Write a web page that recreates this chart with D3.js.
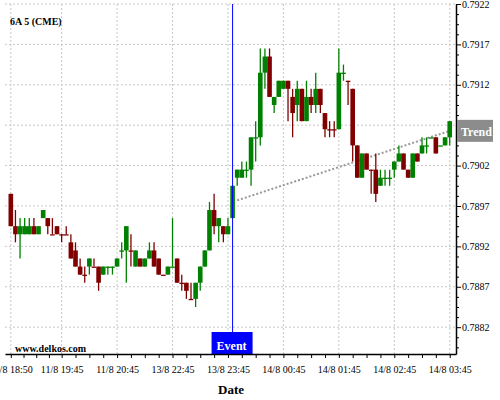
<!DOCTYPE html>
<html>
<head>
<meta charset="utf-8">
<script src="https://cdn.jsdelivr.net/npm/d3@7"></script>
<style>
  body { margin: 0; background: #fff; }
  text { font-family: "Liberation Serif", "Times New Roman", serif; }
</style>
</head>
<body>
<script>
'use strict'

// 5 minute bars, 6A (CME), 11/8 18:50 .. 14/8 03:45
const opens = [
  0.78985, 0.78945, 0.78935, 0.78935, 0.78935, 0.78945, 0.78935, 0.78955, 0.78955, 0.78935,
  0.78945, 0.78935, 0.78935, 0.78925, 0.78915, 0.78895, 0.78885, 0.78895, 0.78895, 0.78895,
  0.78885, 0.78895, 0.78895, 0.78895, 0.78915, 0.78915, 0.78915, 0.78895, 0.78905, 0.78895,
  0.78905, 0.78915, 0.78905, 0.78885, 0.78885, 0.78895, 0.78905, 0.78875, 0.78875, 0.78855,
  0.78855, 0.78875, 0.78895, 0.78915, 0.78965, 0.78945, 0.78945, 0.78935, 0.78955, 0.79005,
  0.79005, 0.79015, 0.79015, 0.79055, 0.79055, 0.79135, 0.79155, 0.79095, 0.79105, 0.79115,
  0.79125, 0.79105, 0.79095, 0.79115, 0.79075, 0.79105, 0.79095, 0.79115, 0.79085, 0.79065,
  0.79065, 0.79065, 0.79135, 0.79125, 0.79115, 0.79045, 0.79005, 0.79035, 0.79015, 0.79015,
  0.78995, 0.79005, 0.79005, 0.79015, 0.79025, 0.79035, 0.79015, 0.79005, 0.79035, 0.79035,
  0.79045, 0.79055, 0.79055, 0.79045, 0.79045, 0.79055
]
const highs = [
  0.78985, 0.78965, 0.78955, 0.78955, 0.78955, 0.78955, 0.78945, 0.78965, 0.78955, 0.78955,
  0.78945, 0.78935, 0.78945, 0.78935, 0.78925, 0.78905, 0.78895, 0.78905, 0.78905, 0.78895,
  0.78895, 0.78895, 0.78895, 0.78905, 0.78925, 0.78945, 0.78935, 0.78915, 0.78905, 0.78905,
  0.78925, 0.78925, 0.78905, 0.78885, 0.78895, 0.78955, 0.78905, 0.78885, 0.78875, 0.78875,
  0.78875, 0.78895, 0.78915, 0.78975, 0.78985, 0.78955, 0.78945, 0.78955, 0.78995, 0.79015,
  0.79025, 0.79025, 0.79055, 0.79075, 0.79165, 0.79165, 0.79165, 0.79105, 0.79125, 0.79125,
  0.79125, 0.79115, 0.79125, 0.79115, 0.79125, 0.79115, 0.79135, 0.79115, 0.79085, 0.79075,
  0.79075, 0.79165, 0.79145, 0.79125, 0.79115, 0.79045, 0.79035, 0.79035, 0.79015, 0.79035,
  0.79015, 0.79015, 0.79015, 0.79025, 0.79045, 0.79035, 0.79015, 0.79035, 0.79035, 0.79055,
  0.79055, 0.79055, 0.79055, 0.79045, 0.79055, 0.79075
]
const lows = [
  0.78945, 0.78925, 0.78905, 0.78935, 0.78935, 0.78935, 0.78935, 0.78955, 0.78935, 0.78935,
  0.78935, 0.78925, 0.78935, 0.78905, 0.78895, 0.78885, 0.78875, 0.78885, 0.78895, 0.78865,
  0.78885, 0.78885, 0.78885, 0.78895, 0.78905, 0.78875, 0.78895, 0.78895, 0.78895, 0.78895,
  0.78905, 0.78895, 0.78885, 0.78885, 0.78885, 0.78895, 0.78875, 0.78865, 0.78855, 0.78855,
  0.78845, 0.78865, 0.78895, 0.78915, 0.78935, 0.78925, 0.78925, 0.78935, 0.78955, 0.78995,
  0.79005, 0.79005, 0.78995, 0.79025, 0.79045, 0.79115, 0.79105, 0.79085, 0.79105, 0.79115,
  0.79075, 0.79055, 0.79075, 0.79075, 0.79075, 0.79085, 0.79085, 0.79085, 0.79055, 0.79055,
  0.79055, 0.79065, 0.79125, 0.79095, 0.79025, 0.79005, 0.79005, 0.79015, 0.78985, 0.78975,
  0.78995, 0.78995, 0.78995, 0.79005, 0.79025, 0.79015, 0.79005, 0.79005, 0.79025, 0.79035,
  0.79035, 0.79055, 0.79035, 0.79045, 0.79045, 0.79045
]
const closes = [
  0.78945, 0.78935, 0.78945, 0.78945, 0.78945, 0.78935, 0.78945, 0.78965, 0.78945, 0.78935,
  0.78935, 0.78935, 0.78935, 0.78905, 0.78895, 0.78885, 0.78885, 0.78905, 0.78895, 0.78875,
  0.78895, 0.78895, 0.78895, 0.78905, 0.78915, 0.78945, 0.78915, 0.78915, 0.78895, 0.78905,
  0.78915, 0.78895, 0.78885, 0.78885, 0.78895, 0.78895, 0.78875, 0.78875, 0.78865, 0.78855,
  0.78875, 0.78895, 0.78915, 0.78965, 0.78945, 0.78955, 0.78935, 0.78945, 0.78995, 0.79015,
  0.79015, 0.79015, 0.79055, 0.79055, 0.79135, 0.79155, 0.79105, 0.79105, 0.79125, 0.79125,
  0.79115, 0.79085, 0.79115, 0.79075, 0.79105, 0.79095, 0.79115, 0.79095, 0.79065, 0.79065,
  0.79065, 0.79135, 0.79135, 0.79125, 0.79045, 0.79005, 0.79035, 0.79015, 0.79015, 0.78985,
  0.79005, 0.79005, 0.79005, 0.79025, 0.79035, 0.79015, 0.79005, 0.79035, 0.79025, 0.79045,
  0.79045, 0.79055, 0.79035, 0.79045, 0.79055, 0.79075
]
// bars where open == close but drawn green
const upDoji = [21, 22, 24, 35, 51, 53, 72, 81, 82, 90, 91, 93]

const tickBars = [0, 11, 23, 35, 47, 59, 71, 83, 95]
const tickLabels = ['11/8 18:50', '11/8 19:45', '11/8 20:45', '13/8 22:45', '13/8 23:45',
                    '14/8 00:45', '14/8 01:45', '14/8 02:45', '14/8 03:45']
const priceTicks = [0.7882, 0.7887, 0.7892, 0.7897, 0.7902, 0.7907, 0.7912, 0.7917, 0.7922]

const eventBar = 48
const trend = [{bar: 49, price: 0.78977}, {bar: 95, price: 0.79063}]

const width = 500, height = 400
const green = '#008000', red = '#800000'

const svg = d3.select('body').append('svg')
  .attr('width', width)
  .attr('height', height)

const x = d3.scaleLinear().domain([-1.26, 96.36]).range([5, 456])
const y = d3.scaleLinear().domain([0.787868, 0.7922]).range([354, 4])
const bw = x(1) - x(0)

// grid
const grid = svg.append('g').attr('class', 'grid')
  .attr('stroke', '#c8c8c8').attr('stroke-dasharray', '2,2')
grid.selectAll('line.h').data(priceTicks).enter().append('line')
  .attr('x1', 5).attr('x2', 456)
  .attr('y1', d => y(d)).attr('y2', d => y(d))
grid.selectAll('line.v').data(tickBars).enter().append('line')
  .attr('x1', d => x(d)).attr('x2', d => x(d))
  .attr('y1', 4).attr('y2', 354)

svg.append('text')
  .attr('x', 10).attr('y', 25)
  .attr('font-size', 10).attr('font-weight', 'bold')
  .text('6A 5 (CME)')

svg.append('text')
  .attr('x', 15).attr('y', 352)
  .attr('font-size', 10).attr('font-weight', 'bold')
  .text('www.delkos.com')

// trend line
svg.append('line')
  .attr('x1', x(trend[0].bar)).attr('y1', y(trend[0].price))
  .attr('x2', x(trend[1].bar)).attr('y2', y(trend[1].price))
  .attr('stroke', '#999').attr('stroke-width', 2)
  .attr('stroke-dasharray', '2,2')

// candles
const bars = d3.range(opens.length)
const colour = i => closes[i] > opens[i] ? green
  : closes[i] < opens[i] ? red
  : (upDoji.includes(i) ? green : red)

const candles = svg.append('g').attr('class', 'candles')
  .selectAll('g').data(bars).enter().append('g')

candles.append('line')
  .attr('x1', i => x(i)).attr('x2', i => x(i))
  .attr('y1', i => y(highs[i])).attr('y2', i => y(lows[i]))
  .attr('stroke', colour).attr('stroke-width', 1.3)

candles.append('rect')
  .attr('x', i => x(i) - bw / 2)
  .attr('width', bw)
  .attr('y', i => y(Math.max(opens[i], closes[i])))
  .attr('height', i => Math.max(Math.abs(y(opens[i]) - y(closes[i])), 1.3))
  .attr('fill', colour)

// event marker
svg.append('line')
  .attr('x1', x(eventBar)).attr('x2', x(eventBar))
  .attr('y1', 4).attr('y2', 333)
  .attr('stroke', '#0000ff').attr('stroke-width', 1)
svg.append('rect')
  .attr('x', x(eventBar) - 21).attr('y', 332)
  .attr('width', 41).attr('height', 22)
  .attr('fill', '#0000ff')
svg.append('text')
  .attr('x', x(eventBar) - 1).attr('y', 350)
  .attr('text-anchor', 'middle')
  .attr('font-size', 12).attr('font-weight', 'bold')
  .attr('fill', '#fff')
  .text('Event')

// axes
const xAxis = d3.axisBottom(x)
  .tickValues(tickBars)
  .tickFormat((d, i) => tickLabels[i])
  .tickSize(4).tickSizeOuter(0).tickPadding(8)

const minorBars = []
tickBars.slice(1).forEach((b, i) => {
  const a = tickBars[i]
  for (let k = 1; k < 4; k++) minorBars.push(a + (b - a) * k / 4)
})

const gx = svg.append('g')
  .attr('transform', 'translate(0,354)')
  .call(xAxis)
svg.append('g')
  .attr('transform', 'translate(0,354)')
  .call(d3.axisBottom(x).tickValues(minorBars).tickFormat('').tickSize(4).tickSizeOuter(0))
  .select('.domain').remove()

const yAxis = d3.axisRight(y)
  .tickValues(priceTicks)
  .tickFormat(d3.format('.4f'))
  .tickSize(5).tickSizeOuter(0).tickPadding(1)

const minorPrices = d3.range(0.78795, 0.79221, 0.000125)
  .filter(p => !priceTicks.some(t => Math.abs(t - p) < 1e-7))

const gy = svg.append('g')
  .attr('transform', 'translate(456,0)')
  .call(yAxis)
svg.append('g')
  .attr('transform', 'translate(456,0)')
  .call(d3.axisRight(y).tickValues(minorPrices).tickFormat('').tickSize(3).tickSizeOuter(0))
  .select('.domain').remove()

svg.selectAll('.tick text')
  .attr('font-family', '"Liberation Serif", "Times New Roman", serif')
  .attr('font-size', 10)
  .attr('fill', '#000')
gx.select('.domain').attr('stroke-width', 1.5)
gy.select('.domain').attr('stroke-width', 1.5)

// trend label
const ty = y(trend[1].price)
svg.append('rect')
  .attr('x', 457).attr('y', ty - 11)
  .attr('width', 36).attr('height', 22)
  .attr('fill', '#8c8c8c')
svg.append('text')
  .attr('x', 461).attr('y', ty + 5)
  .attr('font-size', 12).attr('font-weight', 'bold')
  .attr('fill', '#fff')
  .text('Trend')

svg.append('text')
  .attr('x', 231).attr('y', 394)
  .attr('text-anchor', 'middle')
  .attr('font-size', 13).attr('font-weight', 'bold')
  .text('Date')
</script>
</body>
</html>
